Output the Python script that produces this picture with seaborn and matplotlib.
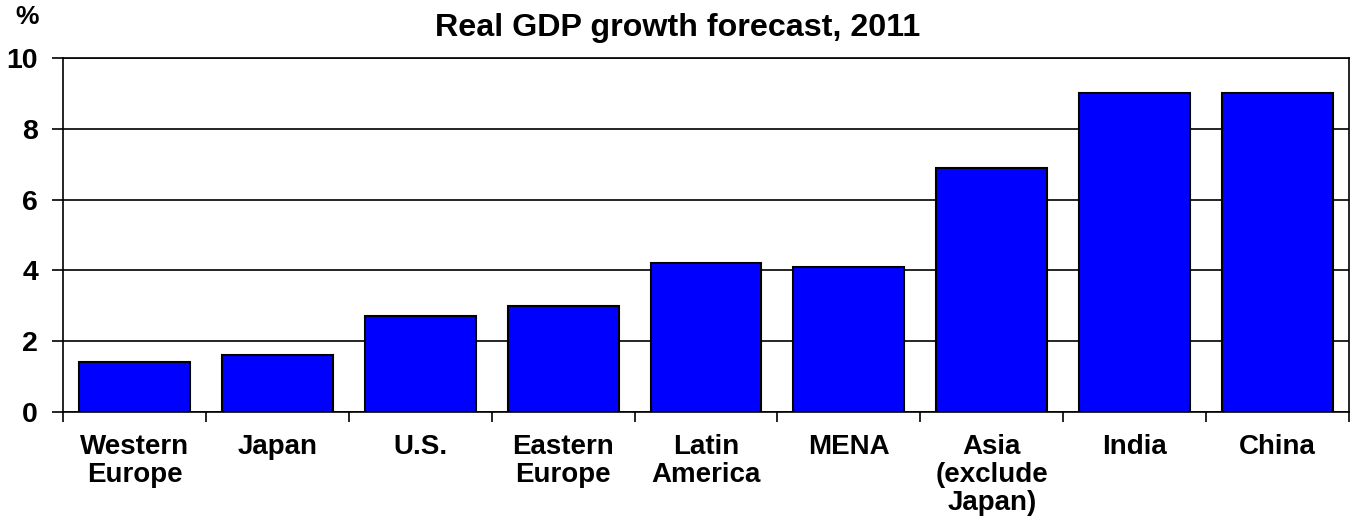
import matplotlib
matplotlib.use("Agg")
import matplotlib.pyplot as plt
import seaborn as sns
import pandas as pd

regions = ["Western\nEurope", "Japan", "U.S.", "Eastern\nEurope", "Latin\nAmerica",
           "MENA", "Asia\n(exclude\nJapan)", "India", "China"]
growth = [1.4, 1.6, 2.7, 3.0, 4.2, 4.1, 6.9, 9.0, 9.0]
y_ticks = [0, 2, 4, 6, 8, 10]

sns.set_theme(style="white")
plt.rcParams["font.family"] = ["Liberation Sans", "DejaVu Sans"]
plt.rcParams["font.weight"] = "bold"

df = pd.DataFrame({"region": regions, "growth": growth})

fig = plt.figure(figsize=(13.54, 5.16), dpi=100)
ax = fig.add_axes([63 / 1354, 1 - 412 / 516, (1349 - 63) / 1354, (412 - 58) / 516])

sns.barplot(data=df, x="region", y="growth", color="#0000FF", saturation=1,
            width=0.776, edgecolor="black", linewidth=1.5, ax=ax, zorder=3)

ax.set_ylim(0, 10)
ax.set_xlim(-0.5, len(regions) - 0.5)
ax.set_yticks(y_ticks)
ax.set_yticklabels([str(t) for t in y_ticks], fontsize=20.5, fontweight="bold")
ax.yaxis.grid(True, color="black", linewidth=1.2, zorder=0)
ax.set_axisbelow(True)

ax.set_xticks(range(len(regions)))
ax.set_xticklabels(regions, fontsize=20, fontweight="bold", linespacing=1.1)
ax.tick_params(axis="x", length=0, pad=16)
ax.tick_params(axis="y", length=8, width=1.2, direction="out", left=True, pad=10, colors="black")
for lab in ax.get_xticklabels() + ax.get_yticklabels():
    lab.set_color("black")

# category boundary ticks on the x axis
ax.set_xticks([i - 0.5 for i in range(len(regions) + 1)], minor=True)
ax.tick_params(axis="x", which="minor", length=7, width=1.2, direction="out", bottom=True, color="black")

ax.set_xlabel("")
ax.set_ylabel("")
for side in ["left", "right", "top", "bottom"]:
    ax.spines[side].set_visible(True)
    ax.spines[side].set_color("black")
    ax.spines[side].set_linewidth(1.2)

fig.text(678 / 1354, 1 - 28 / 516, "Real GDP growth forecast, 2011", ha="center", va="center",
         fontsize=23.2, fontweight="bold", color="black")
fig.text(27 / 1354, 1 - 17 / 516, "%", ha="center", va="center",
         fontsize=19, fontweight="bold", color="black")

fig.savefig("out.png", dpi=100, facecolor="white")
